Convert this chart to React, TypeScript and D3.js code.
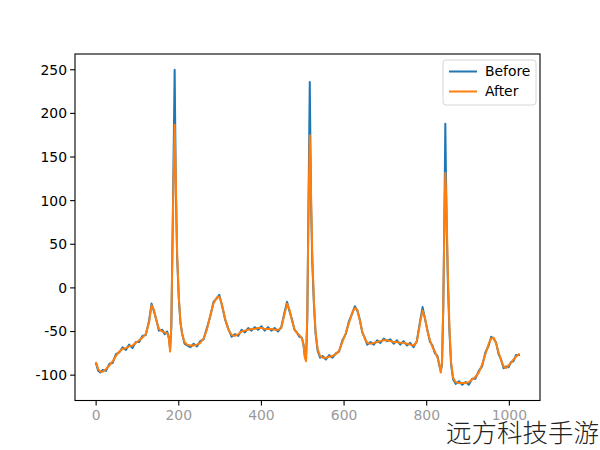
import { useMemo } from "react";
import * as d3 from "d3";

// sample positions (finer around the QRS complexes)
const X = [
  0, 5, 10, 16, 24, 32, 40, 48, 56, 64, 72, 80, 88, 96, 104, 112, 120, 128, 134, 140, 146, 152, 160, 166, 172, 176, 179, 182, 186, 190,
  193, 196, 200, 204, 208, 214, 220, 228, 236, 244, 252, 260, 268, 276, 284, 292, 298, 304, 312, 320, 328, 336, 344, 352, 360, 368, 376, 384, 392, 400,
  408, 416, 424, 432, 440, 448, 455, 462, 468, 474, 480, 486, 492, 498, 502, 505, 508, 511, 514, 517, 520, 523, 527, 531, 536, 542, 548, 556, 564, 572,
  580, 588, 596, 604, 612, 620, 626, 632, 638, 644, 650, 656, 664, 672, 680, 688, 696, 704, 712, 720, 728, 736, 744, 752, 760, 768, 776, 784, 790, 796,
  802, 808, 814, 820, 826, 830, 834, 837, 840, 843, 845, 848, 851, 855, 859, 864, 870, 878, 886, 894, 902, 910, 918, 926, 934, 942, 950, 956, 962, 968,
  974, 980, 986, 992, 998, 1004, 1010, 1016, 1023,
];

const BEFORE = [
  -87, -95, -97, -94, -95, -87, -86, -76, -74, -68, -71, -65, -69, -62, -62, -55, -54, -38, -18, -27, -37, -49, -48, -53, -50, -57, -70, -45, 95, 250,
  110, 35, -12, -40, -52, -64, -66, -68, -64, -67, -61, -59, -46, -33, -16, -12, -8, -19, -36, -47, -56, -53, -55, -48, -51, -46, -49, -45, -48, -44,
  -49, -45, -49, -46, -50, -45, -30, -16, -27, -36, -48, -51, -56, -57, -66, -78, -82, -35, 100, 236, 100, 30, -18, -52, -72, -80, -78, -82, -77, -80,
  -75, -73, -60, -53, -38, -29, -21, -26, -36, -51, -57, -65, -62, -65, -60, -63, -58, -61, -59, -64, -60, -65, -61, -66, -63, -68, -61, -38, -22, -36,
  -49, -62, -66, -75, -78, -88, -95, -88, -25, 90, 188, 80, 10, -50, -88, -105, -110, -107, -111, -108, -111, -104, -104, -95, -90, -74, -66, -56, -58, -63,
  -76, -82, -92, -90, -91, -85, -84, -77, -77,
];

const AFTER = [
  -86, -93, -96, -96, -93, -89, -84, -78, -73, -70, -69, -67, -66, -63, -60, -57, -53, -40, -20, -25, -38, -47, -50, -51, -52, -58, -73, -40, 90, 187,
  120, 40, -10, -38, -53, -62, -65, -66, -66, -65, -63, -58, -48, -32, -18, -11, -10, -18, -35, -48, -54, -55, -53, -50, -49, -48, -47, -47, -46, -46,
  -47, -47, -47, -48, -48, -46, -32, -18, -25, -38, -47, -52, -54, -58, -65, -80, -84, -30, 90, 175, 110, 40, -15, -50, -70, -78, -80, -80, -79, -78,
  -76, -72, -62, -52, -40, -28, -23, -25, -37, -50, -58, -63, -64, -63, -62, -61, -60, -60, -61, -62, -62, -63, -63, -64, -65, -66, -62, -40, -26, -35,
  -50, -60, -68, -73, -80, -86, -97, -85, -20, 80, 132, 90, 20, -45, -85, -103, -108, -109, -109, -109, -108, -105, -102, -97, -88, -76, -64, -58, -57, -64,
  -74, -83, -90, -92, -89, -86, -82, -79, -76,
];

const X_TICKS = [0, 200, 400, 600, 800, 1000];
const Y_TICKS = [-100, -50, 0, 50, 100, 150, 200, 250];
const SERIES = [
  { name: "Before", values: BEFORE, color: "#1f77b4" },
  { name: "After", values: AFTER, color: "#ff7f0e" },
];

const W = 600;
const H = 450;
const L = 75, R = 540, T = 54, B = 400.5;
const FONT = "'DejaVu Sans', sans-serif";

export default function App() {
  const { x, y } = useMemo(() => {
    const [x0, x1] = d3.extent(X) as [number, number];
    const all = [...BEFORE, ...AFTER];
    const [y0, y1] = d3.extent(all) as [number, number];
    const mx = (x1 - x0) * 0.05;
    const my = (y1 - y0) * 0.05;
    return {
      x: d3.scaleLinear().domain([x0 - mx, x1 + mx]).range([L, R]),
      y: d3.scaleLinear().domain([y0 - my, y1 + my]).range([B, T]),
    };
  }, []);

  const line = (vals: number[]) =>
    d3.line<number>().x((_, i) => x(X[i])).y((d) => y(d))(vals) ?? "";

  return (
    <svg width={W} height={H} style={{ position: "absolute", left: 0, top: 0, background: "#fff" }} fontFamily={FONT}>
      <rect x={0} y={0} width={W} height={H} fill="#fff" />

      {SERIES.map((s) => (
        <path key={s.name} d={line(s.values)} fill="none" stroke={s.color} strokeWidth={2} strokeLinejoin="round" strokeLinecap="square" />
      ))}

      {/* spines */}
      <rect x={L} y={T} width={R - L} height={B - T} fill="none" stroke="#000" strokeWidth={1.1} />

      {/* y axis */}
      {Y_TICKS.map((t) => (
        <g key={t} transform={`translate(${L},${y(t)})`}>
          <line x1={-4.9} x2={0} stroke="#000" strokeWidth={1.1} />
          <text x={-8} dy="0.35em" textAnchor="end" fontSize={13.9} fill="#000">{t}</text>
        </g>
      ))}

      {/* x axis */}
      {X_TICKS.map((t) => (
        <g key={t} transform={`translate(${x(t)},${B})`}>
          <line y1={0} y2={4.9} stroke="#000" strokeWidth={1.1} />
          <text y={8.5} dy="0.76em" textAnchor="middle" fontSize={13.9} fill="#9a9a9a">{t}</text>
        </g>
      ))}

      {/* legend */}
      <g transform="translate(443,60)">
        <rect x={0} y={0} width={93} height={45} rx={3} fill="#fff" fillOpacity={0.8} stroke="#d6d6d6" strokeWidth={1} />
        {SERIES.map((s, i) => (
          <g key={s.name} transform={`translate(0,${11.5 + i * 20})`}>
            <line x1={6} x2={34} stroke={s.color} strokeWidth={2} />
            <text x={42} dy="0.35em" fontSize={13.9} fill="#000">{s.name}</text>
          </g>
        ))}
      </g>

      {/* watermark */}
      <text x={446} y={442} fontSize={25.5} fontWeight={300} fill="#222" fontFamily="'Noto Sans CJK SC', sans-serif">远方科技手游</text>
    </svg>
  );
}
